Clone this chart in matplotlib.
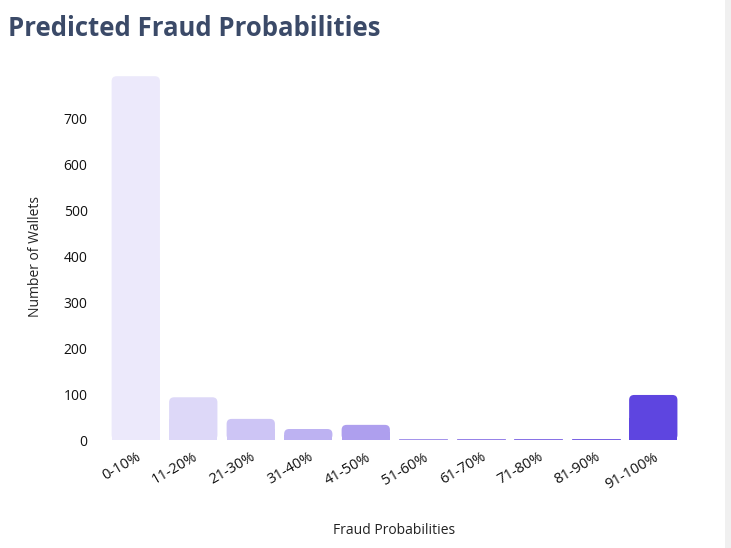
import matplotlib.pyplot as plt
import matplotlib.patches as mpatches
import numpy as np

# data
categories = ['0-10%', '11-20%', '21-30%', '31-40%', '41-50%',
              '51-60%', '61-70%', '71-80%', '81-90%', '91-100%']
wallets = [791, 93, 46, 24, 33, 2, 2, 2, 3, 98]
bar_colors = ['#ECE9FB', '#DDD8F8', '#CDC5F5', '#BDB2F2', '#AE9FEE',
              '#9E8CEA', '#8F79E7', '#7F67E4', '#6F56E2', '#5E45E0']
yticks = [0, 100, 200, 300, 400, 500, 600, 700]

plt.rcParams['font.family'] = ['Open Sans', 'DejaVu Sans']

fig = plt.figure(figsize=(7.31, 5.48), dpi=100)
ax = fig.add_axes([0.1464, 0.197, 0.7866, 0.6715])

x = np.arange(len(categories))
width = 0.84
bars = ax.bar(x, wallets, width=width, color=bar_colors,
              edgecolor=bar_colors, linewidth=0.6)

# swap plain bars for ones with rounded tops
ylim_top = 800
ax.set_xlim(-0.5, len(categories) - 0.5)
ax.set_ylim(0, ylim_top)
bbox = ax.get_position()
px_per_x = bbox.width * 731 / len(categories)
px_per_y = bbox.height * 548 / ylim_top
aspect = px_per_x / px_per_y
for b, c in zip(bars, bar_colors):
    h = b.get_height()
    r_px = min(5.0, h * px_per_y / 2)
    if r_px < 2.0:
        continue
    b.set_visible(False)
    pad = r_px / px_per_x
    xb = b.get_x() + pad
    w = b.get_width() - 2 * pad
    rounded = mpatches.FancyBboxPatch(
        (xb, pad * aspect), w, h - 2 * pad * aspect,
        boxstyle=mpatches.BoxStyle('Round', pad=pad),
        mutation_aspect=aspect, facecolor=c, edgecolor='none')
    ax.add_patch(rounded)
    ax.add_patch(mpatches.Rectangle((b.get_x(), 0), b.get_width(), h / 2,
                                    facecolor=c, edgecolor='none'))

ax.set_yticks(yticks)
ax.set_xticks(x)
ax.set_xticklabels(categories, rotation=30, ha='right', rotation_mode='anchor',
                   fontsize=10.5, color='#111111')
ax.tick_params(axis='y', labelsize=10, colors='#111111', length=0, pad=14)
ax.tick_params(axis='x', length=0, pad=7)
for s in ax.spines.values():
    s.set_visible(False)

ax.set_ylabel('Number of Wallets', fontsize=10, color='#222222', labelpad=15)
ax.set_xlabel('Fraud Probabilities', fontsize=10, color='#222222', labelpad=22)

fig.text(0.011, 0.948, 'Predicted Fraud Probabilities', fontsize=18.5,
         fontweight='bold', color='#3B4A68', va='center')

# scrollbar strip at right edge
fig.add_artist(mpatches.Rectangle((0.9918, 0), 0.0082, 1, transform=fig.transFigure,
                                  facecolor='#F0F0F0', edgecolor='none'))

fig.savefig('out.png', dpi=100)
